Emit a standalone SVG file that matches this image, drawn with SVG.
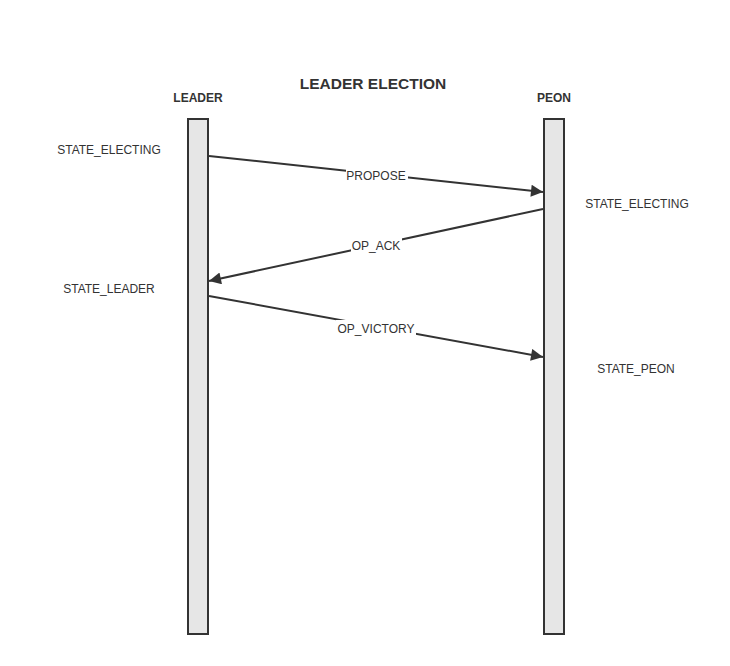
<svg xmlns="http://www.w3.org/2000/svg" width="730" height="666" viewBox="0 0 730 666">
<style>
.t{font-family:"Liberation Sans",Arial,sans-serif;font-size:12px;fill:#333;text-anchor:middle}
.b{font-weight:bold}
.bar{fill:#e6e6e6;stroke:#333;stroke-width:2}
.ln{stroke:#333;stroke-width:2;fill:none}
.bg{fill:#fff}
</style>
<defs>
<marker id="ah" viewBox="0 0 10 10" refX="10" refY="5" markerWidth="8" markerHeight="6" markerUnits="strokeWidth" orient="auto">
<path d="M0,0L10,5L0,10z" fill="#333"/>
</marker>
</defs>
<rect width="730" height="666" fill="#fff"/>
<text class="t b" x="373" y="89" style="font-size:15.5px">LEADER ELECTION</text>
<g id="leader">
<text class="t b" x="198" y="102">LEADER</text>
<rect class="bar" x="188" y="119" width="20" height="515"/>
</g>
<g id="peon">
<text class="t b" x="554" y="102">PEON</text>
<rect class="bar" x="544" y="119" width="20" height="515"/>
</g>
<g id="states">
<text class="t" x="109" y="154">STATE_ELECTING</text>
<text class="t" x="637" y="208">STATE_ELECTING</text>
<text class="t" x="109" y="293">STATE_LEADER</text>
<text class="t" x="636" y="373">STATE_PEON</text>
</g>
<g id="connectors">
<line class="ln" x1="209" y1="156" x2="543" y2="192" marker-end="url(#ah)"/>
<rect class="bg" x="346" y="167" width="62" height="16"/>
<text class="t" x="376" y="180">PROPOSE</text>
<line class="ln" x1="543" y1="209" x2="209" y2="281" marker-end="url(#ah)"/>
<rect class="bg" x="351" y="237" width="51" height="16"/>
<text class="t" x="376" y="250">OP_ACK</text>
<line class="ln" x1="209" y1="296" x2="543" y2="357" marker-end="url(#ah)"/>
<rect class="bg" x="336" y="320" width="80" height="16"/>
<text class="t" x="376" y="333">OP_VICTORY</text>
</g>
</svg>
